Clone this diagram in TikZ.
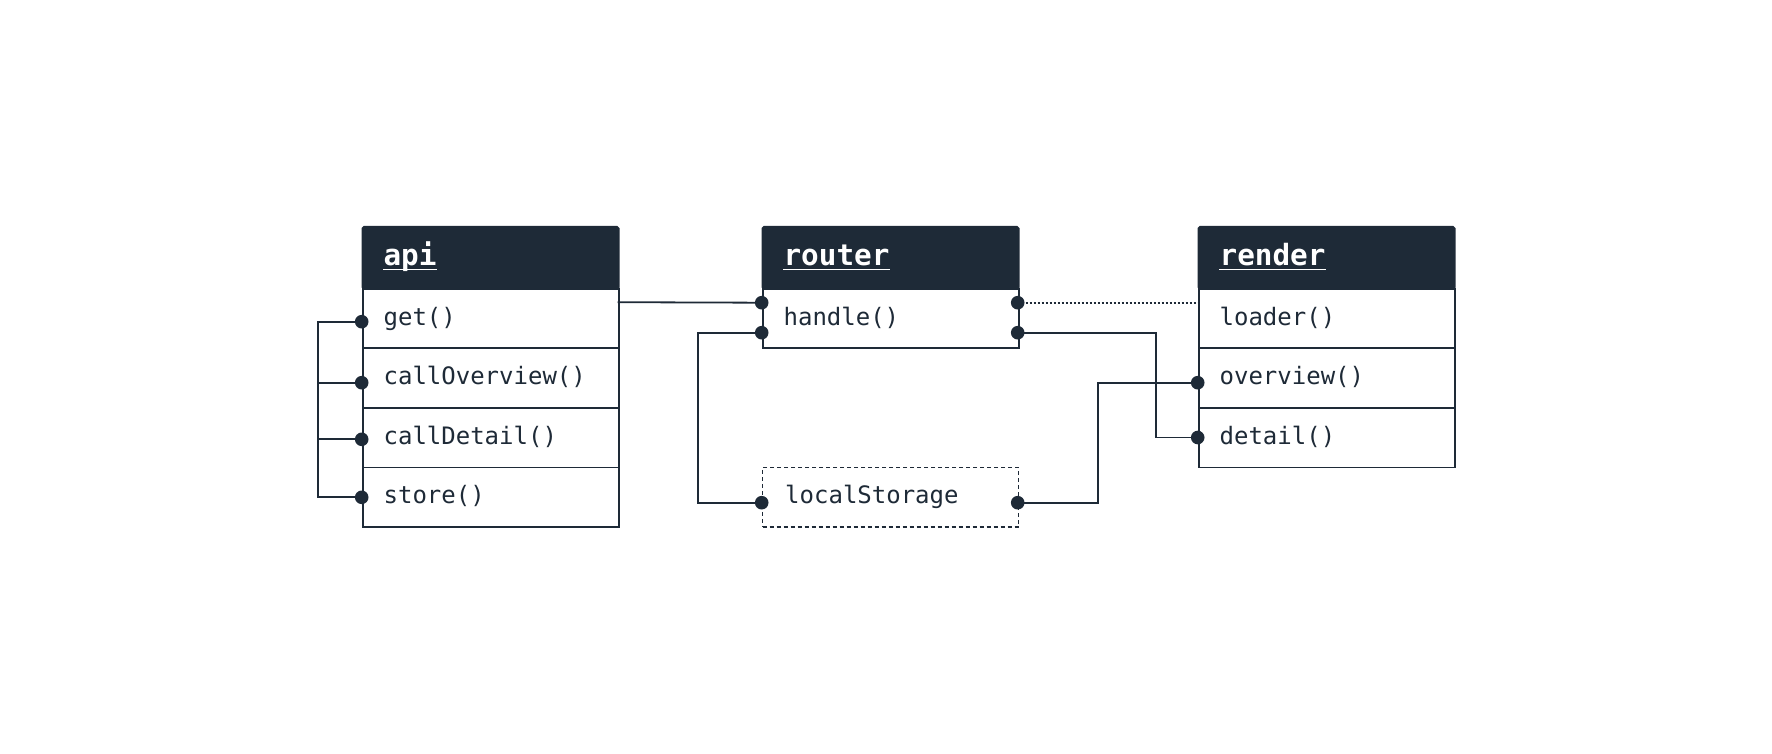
\documentclass[tikz,border=0pt]{standalone}
\usepackage{fontspec}
\newfontfamily\monofont{DejaVu Sans Mono}
\definecolor{ink}{HTML}{1E2A37}
\begin{document}
\begin{tikzpicture}[x=1pt,y=-1pt,
  hdr/.style={draw=ink, fill=ink, line width=1.8pt, anchor=north west, minimum width=256pt, minimum height=61.8pt, inner sep=0pt, rounded corners=1.5pt},
  rowbox/.style={draw=ink, fill=white, line width=1.8pt, anchor=north west, minimum width=256pt, minimum height=59.6pt, inner sep=0pt},
  dashbox/.style={rowbox, dash pattern=on 4pt off 3pt, line width=1.6pt},
  lbl/.style={anchor=base west, inner sep=0pt, text=ink, font=\monofont\fontsize{24}{28}\selectfont},
  htxt/.style={anchor=base west, inner sep=0pt, text=white, font=\monofont\bfseries\fontsize{29.3}{34}\selectfont},
  wire/.style={draw=ink, line width=1.8pt},
  dotwire/.style={draw=ink, line width=1.8pt, dash pattern=on 1.8pt off 2.2pt},
  pin/.style={circle, fill=ink, inner sep=0pt, minimum size=13.6pt},
  uline/.style={draw=white, line width=1.6pt}
]
\useasboundingbox (0,0) rectangle (1772,754);

% ---------- api ----------
\node[hdr] (apiH) at (361.7,226) {};
\node[rowbox] (apiR1) at (361.7,287.8) {};
\node[rowbox] (apiR2) at (361.7,347.4) {};
\node[rowbox] (apiR3) at (361.7,407.0) {};
\node[rowbox] (apiR4) at (361.7,466.6) {};
\node[htxt] (apiT) at (383.4,265) {api};
\draw[uline] ([yshift=-4.3pt]apiT.base west) -- ([yshift=-4.3pt]apiT.base east);
\node[lbl] (apiL1) at (383.4,325) {get()};
\node[lbl] (apiL2) at (383.4,384.6) {callOverview()};
\node[lbl] (apiL3) at (383.4,444.2) {callDetail()};
\node[lbl] (apiL4) at (383.4,503.8) {store()};

% ---------- router ----------
\node[hdr] (rtH) at (761.7,226) {};
\node[rowbox] (rtR1) at (761.7,287.8) {};
\node[htxt] (rtT) at (783.4,265) {router};
\draw[uline] ([yshift=-4.3pt]rtT.base west) -- ([yshift=-4.3pt]rtT.base east);
\node[lbl] (rtL1) at (783.4,325) {handle()};

% ---------- localStorage ----------
\node[dashbox] (ls) at (761.7,466.6) {};
\node[lbl] (lsL) at (785.0,503.8) {localStorage};

% ---------- render ----------
\node[hdr] (rdH) at (1197.7,226) {};
\node[rowbox] (rdR1) at (1197.7,287.8) {};
\node[rowbox] (rdR2) at (1197.7,347.4) {};
\node[rowbox] (rdR3) at (1197.7,407.0) {};
\node[htxt] (rdT) at (1219.4,265) {render};
\draw[uline] ([yshift=-4.3pt]rdT.base west) -- ([yshift=-4.3pt]rdT.base east);
\node[lbl] (rdL1) at (1219.4,325) {loader()};
\node[lbl] (rdL2) at (1219.4,384.6) {overview()};
\node[lbl] (rdL3) at (1219.4,444.2) {detail()};

% ---------- connection points ----------
\coordinate (pGet) at (361.7,321.7);
\coordinate (pOv) at (361.7,382.7);
\coordinate (pDet) at (361.7,439.3);
\coordinate (pSt) at (361.7,497.3);
\coordinate (apiOut) at (617.7,302.2);
\coordinate (rtL1p) at (761.7,302.7);
\coordinate (rtL2p) at (761.7,332.7);
\coordinate (rtR1p) at (1017.7,302.7);
\coordinate (rtR2p) at (1017.7,332.7);
\coordinate (lsLp) at (761.7,502.7);
\coordinate (lsRp) at (1017.7,502.7);
\coordinate (rdIn) at (1197.7,302.7);
\coordinate (rdOv) at (1197.7,382.7);
\coordinate (rdDet) at (1197.7,437.5);

% ---------- connectors ----------
\draw[wire] (pGet) -- ++(-43.7,0) |- (pSt);
\draw[wire] (pOv) -- ++(-43.7,0);
\draw[wire] (pDet) -- ++(-43.7,0);
\draw[wire] (apiOut) -- (rtL1p);
\draw[dotwire] (rtR1p) -- (rdIn);
\draw[wire] (rtL2p) -- ++(-63.4,0) |- (lsLp);
\draw[wire] (rtR2p) -- ++(138.3,0) |- (rdDet);
\draw[wire] (lsRp) -- ++(80.6,0) |- (rdOv);

% ---------- pins ----------
\foreach \p in {pGet,pOv,pDet,pSt,rtL1p,rtL2p,rtR1p,rtR2p,lsLp,lsRp,rdOv,rdDet}
  \node[pin] at (\p) {};
\end{tikzpicture}
\end{document}
